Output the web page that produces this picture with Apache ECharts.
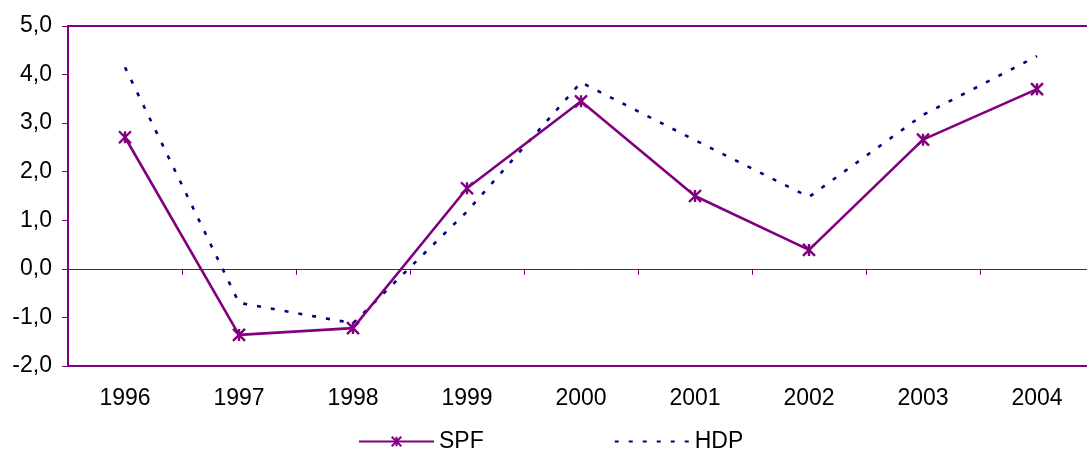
<!DOCTYPE html>
<html>
<head>
<meta charset="utf-8">
<script src="https://cdn.jsdelivr.net/npm/echarts@6/dist/echarts.min.js"></script>
<style>
  html, body { margin: 0; padding: 0; background: #ffffff; }
  #chart { width: 1087px; height: 451px; }
</style>
</head>
<body>
<div id="chart"></div>
<script>
// Years on the category axis
const years = ['1996', '1997', '1998', '1999', '2000', '2001', '2002', '2003', '2004'];
// Annual values of the two series
const spf = [2.71, -1.36, -1.22, 1.66, 3.45, 1.50, 0.39, 2.66, 3.70];
const hdp = [4.15, -0.70, -1.12, 1.18, 3.84, 2.65, 1.48, 3.17, 4.38];
// Value axis range and step
const yMin = -2;
const yMax = 5;
const yStep = 1;

const PURPLE = '#800080';
const NAVY = '#000080';
const FONT = 'Liberation Sans, Arial, sans-serif';

const chart = echarts.init(document.getElementById('chart'), null, { renderer: 'canvas' });

chart.setOption({
  animation: false,
  backgroundColor: '#ffffff',
  grid: {
    left: 68, top: 26, bottom: 85, width: 1026,
    show: true,
    borderColor: PURPLE,
    borderWidth: 2,
    containLabel: false,
    outerBoundsMode: 'none'
  },
  legend: {
    top: 430,
    left: 358,
    itemWidth: 75,
    itemHeight: 12,
    itemGap: 130,
    padding: 0,
    textStyle: { fontFamily: FONT, fontSize: 23, color: '#000' },
    data: [
      { name: 'SPF' },
      { name: 'HDP', itemStyle: { opacity: 0 } }
    ]
  },
  xAxis: [
    {
      type: 'category',
      data: years,
      boundaryGap: true,
      position: 'bottom',
      axisLine: { onZero: false, lineStyle: { color: PURPLE, width: 2 } },
      axisTick: { show: false },
      axisLabel: { margin: 21, fontFamily: FONT, fontSize: 23, color: '#000' },
      splitLine: { show: false }
    },
    {
      // zero line with category separators
      type: 'category',
      data: years,
      boundaryGap: true,
      position: 'bottom',
      axisLine: { onZero: true, lineStyle: { color: PURPLE, width: 1 } },
      axisTick: { show: true, inside: false, length: 6, lineStyle: { color: PURPLE, width: 1 } },
      axisLabel: { show: false },
      splitLine: { show: false }
    }
  ],
  yAxis: {
    type: 'value',
    min: yMin,
    max: yMax,
    interval: yStep,
    axisLine: { show: true, lineStyle: { color: PURPLE, width: 2 } },
    axisTick: { show: true, inside: false, length: 6, lineStyle: { color: PURPLE, width: 1 } },
    axisLabel: {
      margin: 16,
      fontFamily: FONT,
      fontSize: 23,
      color: '#000',
      formatter: v => v.toFixed(1).replace('.', ',')
    },
    splitLine: { show: false }
  },
  series: [
    {
      name: 'SPF',
      type: 'line',
      xAxisIndex: 0,
      data: spf,
      symbol: 'path://M0 0L10 10M10 0L0 10M5 0L5 10',
      symbolSize: 12,
      showAllSymbol: true,
      itemStyle: { color: PURPLE, borderColor: PURPLE, borderWidth: 2.4 },
      lineStyle: { color: PURPLE, width: 2.6 },
      z: 3
    },
    {
      name: 'HDP',
      type: 'line',
      xAxisIndex: 0,
      data: hdp,
      symbol: 'none',
      itemStyle: { color: NAVY },
      lineStyle: { color: NAVY, width: 2.6, type: [4, 10] },
      z: 2
    }
  ]
});
</script>
</body>
</html>
